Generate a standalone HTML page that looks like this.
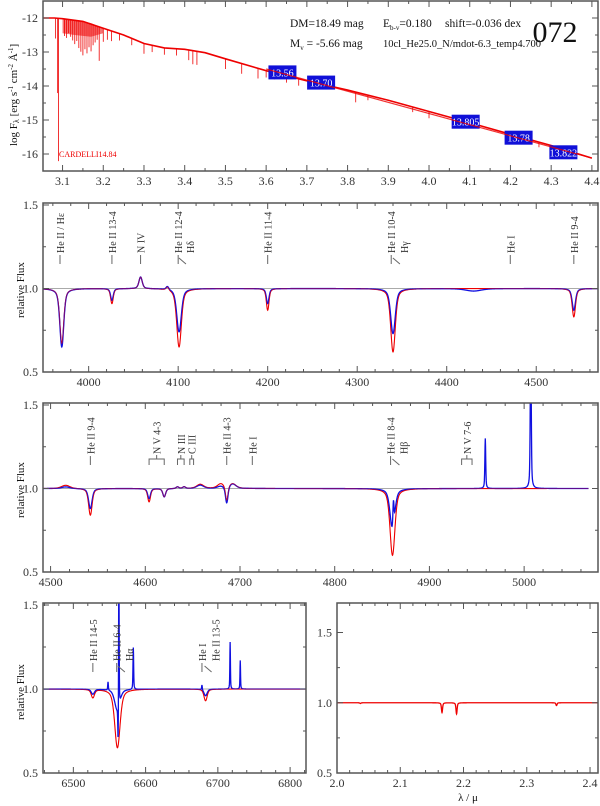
<!DOCTYPE html>
<html><head><meta charset="utf-8">
<style>
html,body{margin:0;padding:0;background:#fff;}
svg{display:block;font-family:"Liberation Serif",serif;}
</style></head>
<body>
<svg id="fig" width="600" height="806" viewBox="0 0 600 806"></svg>
<script>
// ---------- DATA ----------
const sedContX = [3.052,3.08,3.1,3.15,3.2,3.25,3.3,3.35,3.4,3.45,3.5,3.6,3.7,3.8,3.9,4.0,4.1,4.2,4.3,4.4];
const sedContY = [-12.0,-12.0,-12.02,-12.1,-12.3,-12.5,-12.75,-12.88,-12.92,-13.02,-13.2,-13.55,-13.85,-14.12,-14.42,-14.75,-15.08,-15.42,-15.75,-16.12];
const sedLineX = [3.083,3.088,3.09,3.105,3.11,3.115,3.12,3.125,3.13,3.135,3.14,3.145,3.15,3.155,3.16,3.165,3.17,3.175,3.18,3.185,3.19,3.2,3.21,3.22,3.24,3.27,3.3,3.32,3.35,3.38,3.41,3.42,3.43,3.5,3.54,3.58,3.6,3.62,3.65,3.68,3.72,3.82,3.85,3.96,4.0,4.06,4.27];
const sedLineD = [0.6,2.2,4.2,0.5,0.55,0.4,0.5,0.6,0.7,0.6,0.8,0.9,1.0,0.8,0.9,0.7,0.8,0.6,0.5,0.4,1.0,0.4,0.3,0.3,0.2,0.2,0.3,0.2,0.2,0.2,0.3,0.4,0.4,0.3,0.3,0.3,0.2,0.2,0.2,0.2,0.15,0.3,0.15,0.15,0.2,0.15,0.15];
const photX = [3.64,3.735,4.09,4.22,4.33];
const photY = [-13.6,-13.9,-15.05,-15.52,-15.95];
const photLabel = ["13.56","13.70","13.805","13.78","13.822"];

const p2C = [3970,4026,4058,4088,4101,4200,4340,4430,4542];
const p2Model = [0.67,0.91,1.07,1.02,0.65,0.87,0.62,1.0,0.83];
const p2Obs = [0.65,0.93,1.07,1.02,0.74,0.91,0.73,0.985,0.87];
const p2W = [3,2,2.5,2,3.5,2,3.5,12,2.5];
const p2Labels = [["He II / Hε",3968],["He II 13-4",4026],["N IV",4058],["He II 12-4",4100],["He II 11-4",4200],["He II 10-4",4338],["He I",4471],["He II 9-4",4542]];
const p2Slant = [["Hδ",4102],["Hγ",4341]];

const p3C = [4516,4542,4604,4620,4634,4641,4658,4680,4686,4692,4861,4862,4959,5007];
const p3Model = [1.02,0.84,0.92,0.95,1.01,1.01,1.025,1.03,0.91,1.03,0.60,1.0,1.0,1.0];
const p3Obs = [1.01,0.88,0.94,0.95,1.01,1.01,1.02,1.015,0.90,1.03,0.75,1.16,1.30,1.9];
const p3W = [6,2.5,2,2,2,2,5,5,1.8,5,3.5,0.8,0.6,0.7];
const p3Labels = [["He II 9-4",4542],["He II 4-3",4686],["He I",4713],["He II 8-4",4859]];
const p3Slant = [["Hβ",4862]];
const p3Brackets = [["N V 4-3",4604,4620],["N III",4634,4641],["C III",4647,4651],["N V 7-6",4934,4945]];

const p4C = [6527,6548,6561,6562,6563,6583,6678,6683,6717,6731];
const p4Model = [0.95,1.0,0.65,1.0,1.0,1.0,1.0,0.93,1.0,1.0];
const p4Obs = [0.97,1.05,0.87,0.75,1.9,1.25,1.03,0.96,1.28,1.17];
const p4W = [3,0.6,5,0.6,0.5,0.6,0.6,3,0.5,0.5];
const p4Labels = [["He II 14-5",6527],["He II 6-4",6560],["He I",6678]];
const p4Slant = [["Hα",6563],["He II 13-5",6683]];

const kC = [2.037,2.166,2.189,2.347];
const kDepth = [0.995,0.93,0.92,0.98];

// ---------- HELPERS ----------
const NS="http://www.w3.org/2000/svg";
const svg=document.getElementById('fig');
function el(tag,attrs,parent){const e=document.createElementNS(NS,tag);for(const k in attrs)e.setAttribute(k,attrs[k]);(parent||svg).appendChild(e);return e;}
function axisFn(d0,d1,p0,p1){return v=>p0+(v-d0)/(d1-d0)*(p1-p0);}
let clipId=0;
function panel(o){
  const g=el('g',{});
  
  
  const sx=axisFn(o.xr[0],o.xr[1],o.x0,o.x1), sy=axisFn(o.yr[0],o.yr[1],o.y1,o.y0);
  const cid='c'+(clipId++);
  const cp=el('clipPath',{id:cid},g);el('rect',{x:o.x0,y:o.y0,width:o.x1-o.x0,height:o.y1-o.y0},cp);
  const plot=el('g',{'clip-path':'url(#'+cid+')'},g);
  const tg=el('g',{stroke:'#555','stroke-width':1},g);
  
  
  const eps=1e-9;
  for(let v=Math.ceil(o.xr[0]/o.xminor-eps)*o.xminor;v<=o.xr[1]+eps;v+=o.xminor){
    const major=Math.abs(v/o.xmajor-Math.round(v/o.xmajor))<1e-6;const L=major?6:3;const x=sx(v);
    el('line',{x1:x,x2:x,y1:o.y1,y2:o.y1-L},tg);el('line',{x1:x,x2:x,y1:o.y0,y2:o.y0+L},tg);
    if(major){const t=el('text',{x:x,y:o.y1+14,'text-anchor':'middle','font-size':12,fill:'#333',stroke:'none'},g);t.textContent=o.xfmt(v);
      }
  }
  for(let v=Math.ceil(o.yr[0]/o.yminor-eps)*o.yminor;v<=o.yr[1]+eps;v+=o.yminor){
    const major=Math.abs(v/o.ymajor-Math.round(v/o.ymajor))<1e-6;const L=major?6:3;const y=sy(v);
    el('line',{x1:o.x0,x2:o.x0+L,y1:y,y2:y},tg);el('line',{x1:o.x1,x2:o.x1-L,y1:y,y2:y},tg);
    if(major){const t=el('text',{x:o.x0-5,y:y+4,'text-anchor':'end','font-size':12,fill:'#333',stroke:'none'},g);t.textContent=o.yfmt(v);
      }
  }
  el('rect',{x:o.x0,y:o.y0,width:o.x1-o.x0,height:o.y1-o.y0,fill:'none',stroke:'#555','stroke-width':1.5},g);
  return {g,plot,sx,sy};
}
function prof(x,C,D,W){let f=1;for(let i=0;i<C.length;i++){const a=D[i]-1;const u=(x-C[i])/W[i];f+=a*(0.55*Math.exp(-u*u)+0.45/(1+u*u));}return f;}
function specPath(P,xr,step,C,D,W){let s='';for(let x=xr[0];x<=xr[1];x+=step){const y=prof(x,C,D,W);s+=(s?'L':'M')+P.sx(x).toFixed(2)+','+P.sy(y).toFixed(2);}return s;}
function unity(P,xr,name){const l=el('line',{x1:P.sx(xr[0]),x2:P.sx(xr[1]),y1:P.sy(1),y2:P.sy(1),stroke:'#aaa','stroke-width':1},P.plot);}
function drawSpectra(P,xr,C,M,O,W,nm){
  unity(P,xr,nm+'-continuum-level');
  const r=el('path',{d:specPath(P,xr,0.25,C,M,W),fill:'none',stroke:'#e00','stroke-width':1.1},P.plot);
  
  const b=el('path',{d:specPath(P,xr,0.25,C,O,W),fill:'none',stroke:'#1010e0','stroke-width':1.3},P.plot);
  
  const r2=el('path',{d:specPath(P,xr,0.25,C,M,W),fill:'none',stroke:'#e00','stroke-width':0.6,opacity:0.7},P.plot);
  
}
function vlabel(P,x,yb,txt,dx){
  const X=P.sx(x);
  const t=el('text',{transform:`translate(${X+4+(dx||0)},${yb-11}) rotate(-90)`,'font-size':10,fill:'#333'},P.g);
  t.textContent=txt;
}
function labels(P,L,S,yb){
  L.forEach(([t,x])=>{const X=P.sx(x);el('line',{x1:X,x2:X,y1:yb-9,y2:yb,stroke:'#666','stroke-width':1},P.g);vlabel(P,x,yb,t);});
  (S||[]).forEach(([t,x])=>{const X=P.sx(x);el('line',{x1:X-1,x2:X+6,y1:yb-6,y2:yb,stroke:'#666','stroke-width':1},P.g);vlabel(P,x,yb,t,10);});
}
function brackets(P,B,yb){
  B.forEach(([t,a,b])=>{const A=P.sx(a),Bx=P.sx(b),m=(A+Bx)/2;
    const g=el('g',{stroke:'#666','stroke-width':1,fill:'none'},P.g);
    el('path',{d:`M${A},${yb}V${yb-6}H${Bx}V${yb}M${m},${yb-6}V${yb-10}`},g);
    vlabel(P,(a+b)/2,yb,t,0);});
}

// ---------- PANEL 1: SED ----------
const P1=panel({name:'sed-panel',x0:43,x1:598,y0:1,y1:171,xr:[3.052,4.415],yr:[-16.5,-11.5],xmajor:0.1,xminor:0.05,ymajor:1,yminor:0.5,xfmt:v=>v.toFixed(1),yfmt:v=>String(Math.round(v))});
function contAt(x){for(let i=0;i<sedContX.length-1;i++){if(x<=sedContX[i+1]){const t=(x-sedContX[i])/(sedContX[i+1]-sedContX[i]);return sedContY[i]+t*(sedContY[i+1]-sedContY[i]);}}return sedContY[sedContY.length-1];}
{
  let d='';sedContX.forEach((x,i)=>{d+=(i?'L':'M')+P1.sx(x)+','+P1.sy(sedContY[i]);});
  const p=el('path',{d,fill:'none',stroke:'#e00','stroke-width':1.6},P1.plot);
  
  const fg=el('g',{stroke:'#e00','stroke-width':0.8},P1.plot);
  
  sedLineX.forEach((x,i)=>{const y0=contAt(x);el('line',{x1:P1.sx(x),x2:P1.sx(x),y1:P1.sy(y0),y2:P1.sy(y0-sedLineD[i])},fg);});
  const fx=[3.1,3.13,3.17,3.2,3.2,3.17,3.13,3.1];const fy=[-12.02,-12.05,-12.15,-12.3,-12.45,-12.55,-12.5,-12.45];
  let pd='';fx.forEach((x,i)=>{pd+=(i?'L':'M')+P1.sx(x)+','+P1.sy(fy[i]);});
  const f=el('path',{d:pd+'Z',fill:'#e00',opacity:0.55},P1.plot);
  
  photX.forEach((x,i)=>{const X=P1.sx(x),Y=P1.sy(photY[i]);
    const r=el('rect',{x:X-14,y:Y-7,width:28,height:14,fill:'#1010d8'},P1.g);
    
    const t=el('text',{x:X,y:Y+4,'text-anchor':'middle','font-size':10,fill:'#fff'},P1.g);t.textContent=photLabel[i];
    });
  el('line',{x1:P1.sx(3.6),x2:P1.sx(4.4),y1:P1.sy(-13.5),y2:P1.sy(-16.12),stroke:'#e00','stroke-width':1.2,opacity:0.8},P1.g);
}
function txt(x,y,s,size,name,extra){const t=el('text',Object.assign({x,y,'font-size':size,fill:'#111'},extra||{}));t.innerHTML=s;return t;}
txt(290,27,'DM=18.49 mag',11.5,'distance-modulus');
txt(383,27,'E<tspan font-size="7" dy="3">b-v</tspan><tspan dy="-3">=0.180</tspan>',11.5,'color-excess');
txt(445,27,'shift=-0.036 dex',11.5,'shift-value');
txt(290,47,'M<tspan font-size="7" dy="3">v</tspan><tspan dy="-3"> =  -5.66 mag</tspan>',11.5,'absolute-magnitude');
txt(383,47,'10cl_He25.0_N/mdot-6.3_temp4.700',10.8,'model-name',{textLength:158,lengthAdjust:'spacingAndGlyphs'});
txt(555,42,'072',30,'star-id',{'text-anchor':'middle'});
txt(59,157,'CARDELLI14.84',8,'reddening-law',{fill:'#e00'});
txt(0,0,'log F<tspan font-size="8" dy="2">λ</tspan><tspan dy="-2">  [erg s</tspan><tspan font-size="7" dy="-4">-1</tspan><tspan dy="4"> cm</tspan><tspan font-size="7" dy="-4">-2</tspan><tspan dy="4"> Å</tspan><tspan font-size="7" dy="-4">-1</tspan><tspan dy="4">]</tspan>',11,'y-axis-title-sed',{transform:'translate(17,146) rotate(-90)'});

// ---------- PANEL 2 ----------
const P2=panel({name:'blue-spectrum-panel',x0:43,x1:598,y0:203,y1:372,xr:[3949,4569],yr:[0.5,1.512],xmajor:100,xminor:20,ymajor:0.5,yminor:0.25,xfmt:v=>String(Math.round(v)),yfmt:v=>v.toFixed(1)});
drawSpectra(P2,[3949,4569],p2C,p2Model,p2Obs,p2W,'p2');
labels(P2,p2Labels,p2Slant,264);
txt(0,0,'relative Flux',11,'y-axis-title-p2',{transform:'translate(24,318) rotate(-90)'});

// ---------- PANEL 3 ----------
const P3=panel({name:'green-spectrum-panel',x0:43,x1:598,y0:403,y1:572,xr:[4492,5078],yr:[0.5,1.512],xmajor:100,xminor:20,ymajor:0.5,yminor:0.25,xfmt:v=>String(Math.round(v)),yfmt:v=>v.toFixed(1)});
drawSpectra(P3,[4492,5068],p3C,p3Model,p3Obs,p3W,'p3');
labels(P3,p3Labels,p3Slant,465);
brackets(P3,p3Brackets,465);
txt(0,0,'relative Flux',11,'y-axis-title-p3',{transform:'translate(24,518) rotate(-90)'});

// ---------- PANEL 4 LEFT ----------
const P4=panel({name:'halpha-panel',x0:43,x1:306,y0:603,y1:773,xr:[6458,6822],yr:[0.5,1.512],xmajor:100,xminor:20,ymajor:0.5,yminor:0.25,xfmt:v=>String(Math.round(v)),yfmt:v=>v.toFixed(1)});
drawSpectra(P4,[6458,6822],p4C,p4Model,p4Obs,p4W,'p4');
labels(P4,p4Labels,p4Slant,672);
txt(0,0,'relative Flux',11,'y-axis-title-p4',{transform:'translate(24,720) rotate(-90)'});

// ---------- PANEL 4 RIGHT ----------
const P5=panel({name:'k-band-panel',x0:337,x1:598,y0:603,y1:773,xr:[2.0,2.4126],yr:[0.5,1.71],xmajor:0.1,xminor:0.02,ymajor:0.5,yminor:0.25,xfmt:v=>v.toFixed(1),yfmt:v=>v.toFixed(1)});
{
  const W=kC.map(()=>0.0012);
  let s='';for(let x=2.0;x<=2.4126;x+=0.0002){const y=prof(x,kC,kDepth,W);s+=(s?'L':'M')+P5.sx(x).toFixed(2)+','+P5.sy(y).toFixed(2);}
  const p=el('path',{d:s,fill:'none',stroke:'#e00','stroke-width':1.3},P5.plot);
  
}
txt(468,801,'λ / μ',11,'x-axis-title-k-band',{'text-anchor':'middle'});
</script>
</body></html>
